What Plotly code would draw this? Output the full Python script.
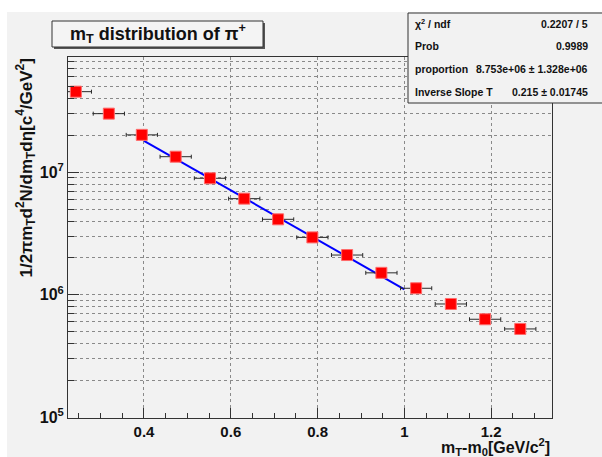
import numpy as np
import plotly.graph_objects as go

# ---- data ----
mt_m0 = [0.243, 0.319, 0.395, 0.473, 0.552, 0.631, 0.709, 0.788, 0.868, 0.947, 1.027, 1.107, 1.186, 1.267]
yield_vals = [4.55e7, 3.01e7, 2.02e7, 1.34e7, 8.93e6, 6.09e6, 4.13e6, 2.94e6, 2.11e6, 1.51e6, 1.13e6, 8.41e5, 6.31e5, 5.26e5]
x_err = [0.036] * len(mt_m0)

fit_norm = 1.16e8
fit_T = 0.215
fit_range = [0.40, 1.00]

stats_labels = ["χ<sup>2</sup> / ndf", "Prob", "proportion", "Inverse Slope T"]
stats_values = ["0.2207 / 5", "0.9989", "8.753e+06 ± 1.328e+06", "0.215 ± 0.01745"]

x_tick_vals = [0.4, 0.6, 0.8, 1.0, 1.2]
x_tick_text = ["0.4", "0.6", "0.8", "1", "1.2"]
y_tick_vals = [1e5, 1e6, 1e7]
y_tick_text = ["10<sup>5</sup>", "10<sup>6</sup>", "10<sup>7</sup>"]

# ---- layout geometry ----
W, H = 602, 457
L, R, T, B = 68, 50, 57, 39
PW, PH = W - L - R, H - T - B
BG = "#f2f2f2"
FONT = "Liberation Sans, Arial, sans-serif"


def px(x):
    return (x - L) / PW


def py(y):
    return (H - B - y) / PH


fig = go.Figure()

fx = np.linspace(fit_range[0], fit_range[1], 100)
fy = fit_norm * np.exp(-fx / fit_T)
fig.add_trace(go.Scatter(x=fx, y=fy, mode="lines", line=dict(color="#0000ff", width=2),
                         showlegend=False, hoverinfo="skip"))

fig.add_trace(go.Scatter(
    x=mt_m0, y=yield_vals, mode="markers",
    marker=dict(symbol="square", size=11, color="#ff0000", line=dict(color="#ff6a6a", width=1)),
    error_x=dict(type="data", array=x_err, color="#2a2a2a", thickness=1, width=2),
    showlegend=False))

minor_y = [k * 10 ** n for n in range(4, 8) for k in range(2, 10)]

fig.update_xaxes(
    range=[0.2249, 1.3401], showline=True, linecolor="#333", linewidth=1, mirror=True,
    tickmode="array", tickvals=x_tick_vals, ticktext=x_tick_text,
    ticks="inside", ticklen=10, tickcolor="#333",
    tickfont=dict(family=FONT, size=15, color="#111", weight="bold"),
    showgrid=True, gridcolor="#8a8a8a", griddash="dot", gridwidth=1, zeroline=False,
    minor=dict(dtick=0.05, tick0=0, ticks="inside", ticklen=5, tickcolor="#333", showgrid=False),
)
fig.update_yaxes(
    type="log", range=[4.994, 7.941], showline=True, linecolor="#333", linewidth=1, mirror=True,
    tickmode="array", tickvals=y_tick_vals, ticktext=y_tick_text,
    ticks="inside", ticklen=11, tickcolor="#333",
    tickfont=dict(family=FONT, size=16, color="#111", weight="bold"),
    showgrid=True, gridcolor="#8a8a8a", griddash="dot", gridwidth=1, zeroline=False,
    minor=dict(tickmode="array", tickvals=minor_y, ticks="inside", ticklen=6, tickcolor="#333",
               showgrid=True, gridcolor="#8a8a8a", griddash="dot", gridwidth=1),
)

shapes = []
# white margins at top and left of canvas
shapes.append(dict(type="rect", xref="paper", yref="paper", x0=px(-2), x1=px(W + 2), y0=py(-2), y1=py(12),
                   fillcolor="white", line=dict(width=0), layer="above"))
shapes.append(dict(type="rect", xref="paper", yref="paper", x0=px(-2), x1=px(7), y0=py(H + 2), y1=py(-2),
                   fillcolor="white", line=dict(width=0), layer="above"))
# title box with shadow
shapes.append(dict(type="rect", xref="paper", yref="paper", x0=px(54), x1=px(265), y0=py(49), y1=py(23),
                   fillcolor="#555", line=dict(width=0), layer="above"))
shapes.append(dict(type="rect", xref="paper", yref="paper", x0=px(52), x1=px(263), y0=py(47), y1=py(21),
                   fillcolor="#f4f4f4", line=dict(color="#333", width=1), layer="above"))
# stats box
shapes.append(dict(type="rect", xref="paper", yref="paper", x0=px(408), x1=px(604), y0=py(103), y1=py(13),
                   fillcolor=BG, line=dict(color="#333", width=1), layer="above"))

annotations = []
annotations.append(dict(xref="paper", yref="paper", x=px(158), y=py(34), xanchor="center", yanchor="middle",
                        text="m<sub>T</sub> distribution of π<sup>+</sup>", showarrow=False,
                        font=dict(family=FONT, size=18, color="#111", weight="bold")))
row_y = [24, 46.5, 69, 91.5]
for lab, val, yy in zip(stats_labels, stats_values, row_y):
    annotations.append(dict(xref="paper", yref="paper", x=px(413), y=py(yy), xanchor="left", yanchor="middle",
                            text=lab, showarrow=False,
                            font=dict(family=FONT, size=10.5, color="#111", weight="bold")))
    annotations.append(dict(xref="paper", yref="paper", x=px(590), y=py(yy), xanchor="right", yanchor="middle",
                            text=val, showarrow=False,
                            font=dict(family=FONT, size=10.5, color="#111", weight="bold")))
annotations.append(dict(xref="paper", yref="paper", x=px(552), y=py(447), xanchor="right", yanchor="middle",
                        text="m<sub>T</sub>-m<sub>0</sub>[GeV/c<sup>2</sup>]", showarrow=False,
                        font=dict(family=FONT, size=16, color="#111", weight="bold")))
annotations.append(dict(xref="paper", yref="paper", x=px(26), y=py(57), xanchor="center", yanchor="top",
                        textangle=-90,
                        text="1/2πm<sub>T</sub>d<sup>2</sup>N/dm<sub>T</sub>dη[c<sup>4</sup>/GeV<sup>2</sup>]",
                        showarrow=False,
                        font=dict(family=FONT, size=17, color="#111", weight="bold")))

fig.update_layout(
    width=W, height=H, margin=dict(l=L, r=R, t=T, b=B, pad=0),
    paper_bgcolor=BG, plot_bgcolor=BG,
    shapes=shapes, annotations=annotations, showlegend=False,
)

fig.write_html("out.html")
